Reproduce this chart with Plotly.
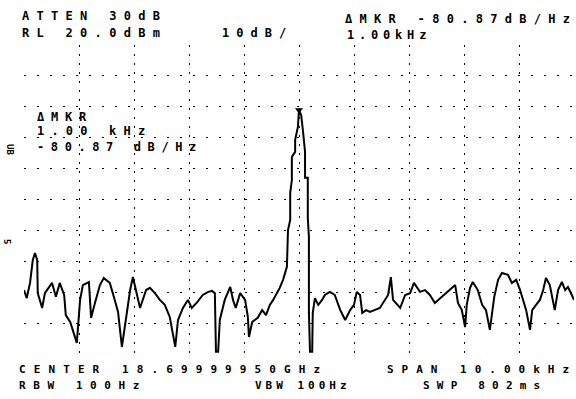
import json
import plotly.graph_objects as go

# Frequency offset from centre (kHz) and level (dBm)
freq_khz = [
    -5.00, -4.95, -4.89, -4.84, -4.80, -4.76, -4.75, -4.67, -4.62, -4.53,
    -4.49, -4.42, -4.35, -4.27, -4.24, -4.16, -4.04, -3.98, -3.93, -3.82,
    -3.78, -3.71, -3.62, -3.55, -3.44, -3.35, -3.29, -3.22, -3.15, -3.07,
    -3.02, -2.95, -2.89, -2.78, -2.71, -2.62, -2.53, -2.44, -2.35, -2.25,
    -2.20, -2.11, -2.02, -1.95, -1.85, -1.75, -1.65, -1.58, -1.53, -1.51,
    -1.47, -1.44, -1.35, -1.25, -1.20, -1.15, -1.07, -0.98, -0.93, -0.91,
    -0.85, -0.75, -0.67, -0.60, -0.53, -0.47, -0.35, -0.29, -0.22, -0.20,
    -0.16, -0.16, -0.13, -0.13, -0.07, -0.07, -0.02, 0.00, 0.04, 0.07,
    0.11, 0.11, 0.16, 0.16, 0.18, 0.18, 0.20, 0.24, 0.25, 0.29,
    0.35, 0.42, 0.47, 0.56, 0.65, 0.75, 0.84, 0.93, 1.00, 1.05,
    1.11, 1.15, 1.22, 1.29, 1.38, 1.47, 1.62, 1.67, 1.71, 1.84,
    1.93, 2.02, 2.09, 2.20, 2.29, 2.38, 2.47, 2.84, 2.89, 2.96,
    3.02, 3.05, 3.11, 3.16, 3.25, 3.33, 3.40, 3.47, 3.55, 3.62,
    3.69, 3.80, 3.87, 3.95, 4.02, 4.07, 4.13, 4.20, 4.24, 4.31,
    4.38, 4.44, 4.49, 4.56, 4.62, 4.65, 4.71, 4.78, 4.84, 4.89,
    4.96, 5.00,
]
level_dbm = [
    -59.3, -61.9, -57.0, -49.6, -47.3, -49.6, -60.3, -65.1, -60.3, -57.7,
    -57.0, -61.5, -57.0, -60.9, -67.4, -69.6, -76.4, -62.5, -57.7, -56.7,
    -68.3, -63.5, -57.7, -55.4, -57.0, -62.5, -66.4, -77.7, -69.0, -59.3,
    -55.1, -60.9, -65.1, -59.3, -58.6, -60.3, -62.5, -64.1, -68.0, -77.7,
    -69.0, -65.1, -62.5, -65.1, -63.2, -60.9, -59.9, -59.6, -60.3, -79.3,
    -79.3, -69.0, -62.5, -58.3, -62.5, -65.1, -60.3, -62.5, -68.0, -74.5,
    -69.6, -68.3, -65.8, -67.4, -64.1, -62.5, -58.6, -56.0, -51.8, -39.9,
    -36.6, -27.9, -23.7, -16.2, -14.6, -10.7, -6.5, -1.0, -2.7, -7.5,
    -14.6, -23.0, -23.0, -36.0, -42.1, -66.7, -79.3, -79.3, -66.7, -61.9,
    -64.1, -62.5, -60.9, -59.9, -60.9, -65.8, -69.0, -65.8, -64.1, -59.9,
    -60.9, -66.7, -65.8, -66.4, -65.8, -65.1, -60.9, -55.1, -62.5, -65.1,
    -60.9, -60.3, -57.0, -59.9, -59.3, -60.9, -63.5, -57.7, -63.5, -65.8,
    -71.3, -64.1, -58.6, -56.7, -59.3, -64.1, -65.8, -72.2, -61.5, -56.0,
    -53.8, -54.4, -57.0, -56.0, -59.3, -62.5, -65.8, -72.2, -65.8, -64.1,
    -62.5, -59.3, -55.4, -57.7, -62.5, -65.8, -59.3, -56.7, -59.3, -58.3,
    -60.9, -62.5,
]
marker_khz = [0.00]
marker_dbm = [-1.0]

x_ticks = [-5, -4, -3, -2, -1, 0, 1, 2, 3, 4, 5]
y_ticks = [-80, -70, -60, -50, -40, -30, -20, -10, 0, 10, 20]

W, H = 576, 399
L, R, T, B = 24, 2, 45, 45


def pp(px, py):
    return (px - L) / (W - L - R), (H - B - py) / (H - T - B)


fig = go.Figure()
fig.add_trace(go.Scatter(
    x=freq_khz, y=level_dbm, mode="lines",
    line=dict(color="black", width=2), hoverinfo="skip"))
fig.add_trace(go.Scatter(
    x=marker_khz, y=marker_dbm, mode="markers",
    marker=dict(symbol="triangle-down", size=7, color="black"),
    hoverinfo="skip"))

# (text, px left, py centre, letter spacing, font size)
texts = [
    ("ATTEN 30dB", 20, 16, 7.3, 12),
    ("RL 20.0dBm", 20, 33, 7.3, 12),
    ("10dB/", 220, 33, 7.0, 12),
    ("\u0394MKR -80.87dB/Hz", 343, 19, 7.3, 12),
    ("1.00kHz", 345, 35, 4.8, 12),
    ("\u0394MKR", 35, 117, 6.8, 12),
    ("1.00 kHz", 35, 131, 7.2, 12),
    ("-80.87 dB/Hz", 35, 147, 6.6, 12),
    ("CENTER 18.69999950GHz", 17, 369, 8.1, 11),
    ("SPAN 10.00kHz", 385, 369, 8.0, 11),
    ("RBW 100Hz", 17, 385, 7.6, 11),
    ("VBW 100Hz", 253, 385, 4.0, 11),
    ("SWP 802ms", 421, 385, 7.2, 11),
]
spacings = []
for txt, px, py, sp, fs in texts:
    x, y = pp(px, py)
    fig.add_annotation(x=x, y=y, xref="paper", yref="paper", text=txt,
                       showarrow=False, xanchor="left", yanchor="middle",
                       font=dict(family="DejaVu Sans Mono", size=fs,
                                 color="black", weight="bold"))
    spacings.append(sp)

# small side glyphs on the left edge
for txt, px, py in [("UB", 10, 149), ("5", 7, 241)]:
    x, y = pp(px, py)
    fig.add_annotation(x=x, y=y, xref="paper", yref="paper", text=txt,
                       showarrow=False, xanchor="center", yanchor="middle",
                       textangle=90, font=dict(family="DejaVu Sans Mono",
                                               size=9, color="black",
                                               weight="bold"))
    spacings.append(0)

fig.update_xaxes(range=[-5, 5], tickvals=x_ticks, showticklabels=False,
                 showgrid=True, gridcolor="black", gridwidth=1.4,
                 griddash="2px,7px", zeroline=False, showline=False,
                 ticks="")
fig.update_yaxes(range=[-80, 20], tickvals=y_ticks, showticklabels=False,
                 showgrid=True, gridcolor="black", gridwidth=1.4,
                 griddash="2px,11px", zeroline=False, showline=False,
                 ticks="")
fig.update_layout(width=W, height=H, margin=dict(l=L, r=R, t=T, b=B),
                  paper_bgcolor="white", plot_bgcolor="white",
                  showlegend=False)

post = ("document.body.style.margin='0';"
        "var sp=" + json.dumps(spacings) + ";"
        "var root=document.getElementById('{plot_id}');"
        "root.querySelectorAll('.annotation').forEach("
        "function(g){var i=+g.getAttribute('data-index');"
        "var t=g.querySelector('text');"
        "if(t&&sp[i]){var bb=t.getBBox();"
        "t.setAttribute('text-anchor','start');"
        "t.setAttribute('x',bb.x);"
        "t.querySelectorAll('tspan').forEach(function(s){"
        "if(s.hasAttribute('x')){s.setAttribute('x',bb.x);}});"
        "t.style.letterSpacing=sp[i]+'px';}});")

fig.write_html("out.html", post_script=post,
               config={"displayModeBar": False})
